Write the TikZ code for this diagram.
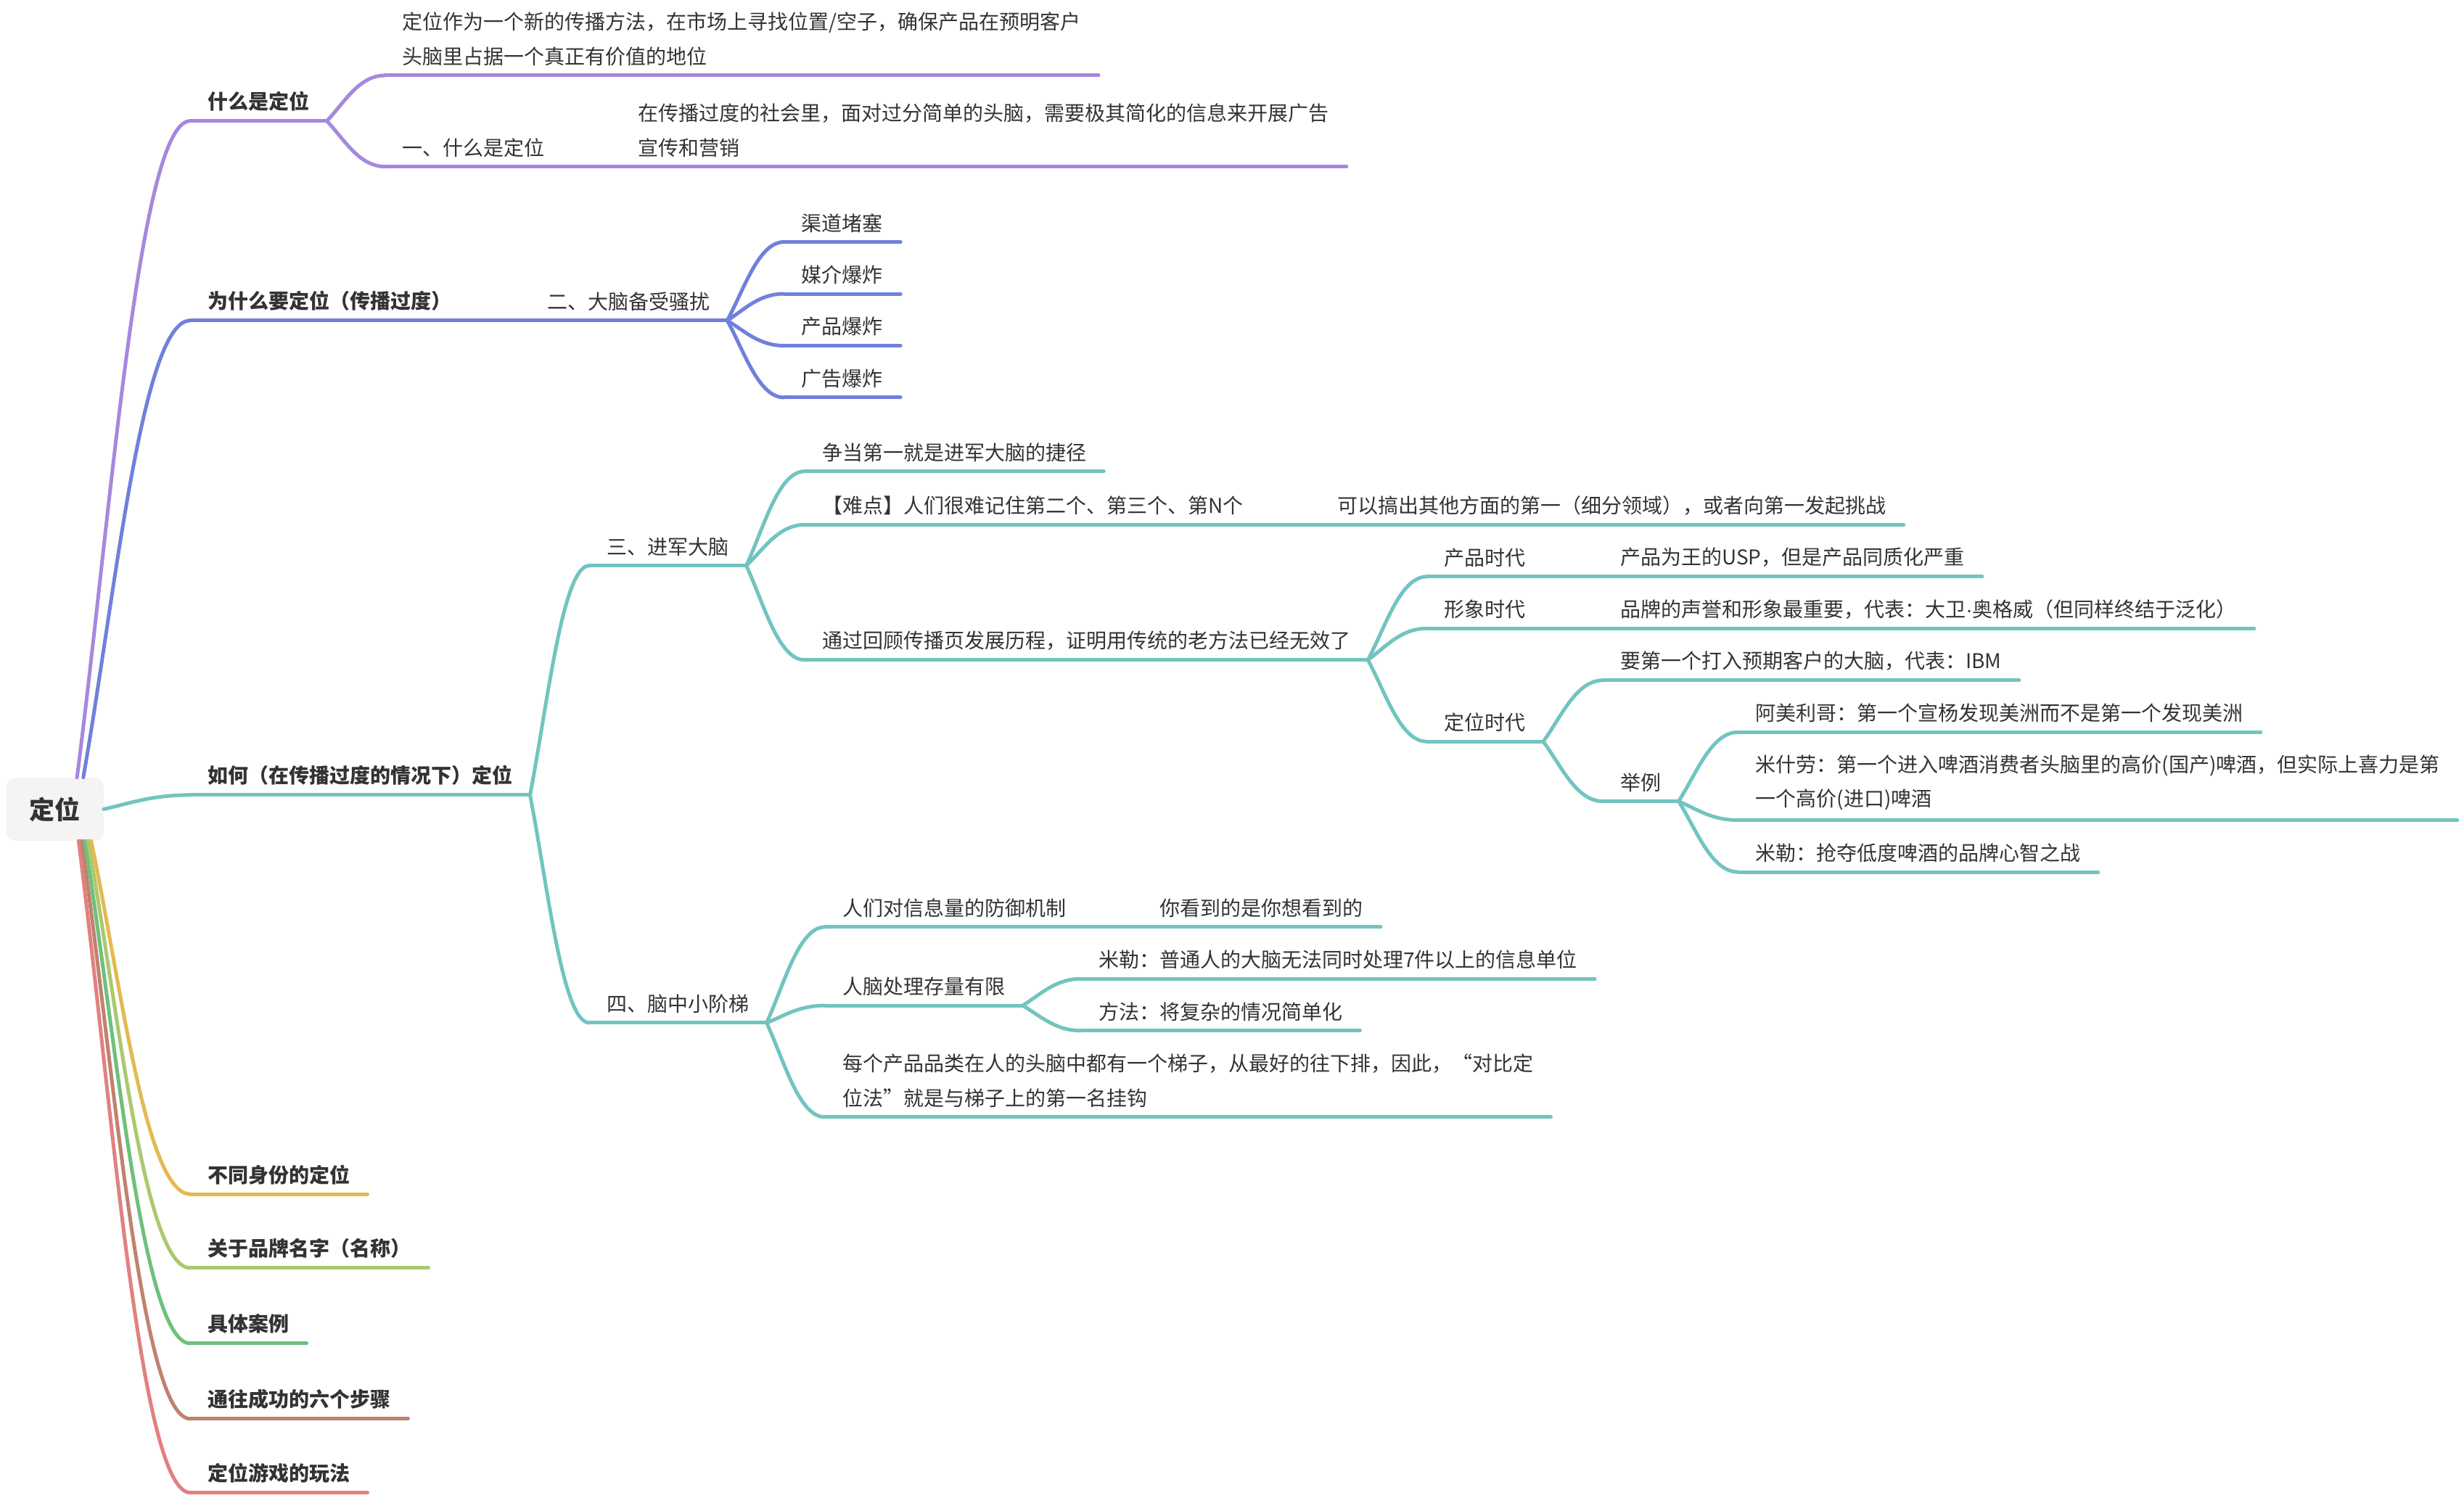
\documentclass[tikz,border=0pt]{standalone}
\usepackage{fontspec}
\setmainfont{Noto Sans CJK SC}
\newfontfamily\latinfont{Liberation Sans}
\usetikzlibrary{calc}
\definecolor{Ink}{HTML}{333333}
\definecolor{RootFill}{HTML}{F4F4F4}
\definecolor{Purple}{HTML}{A688DD}
\definecolor{Blue}{HTML}{7080DC}
\definecolor{Teal}{HTML}{72C4C0}
\definecolor{Yellow}{HTML}{E2BA50}
\definecolor{Lime}{HTML}{ACC86E}
\definecolor{Green}{HTML}{6EC07A}
\definecolor{Brown}{HTML}{C0826E}
\definecolor{Rose}{HTML}{E28080}

% curved branch from a junction to the start of a child's underline
\newcommand{\linkcurve}[3]{%
  \draw[#1] let \p1=(#2), \p2=(#3) in
    (\p1) .. controls ({\x1+0.3*(\x2-\x1)},{\y1+0.4*(\y2-\y1)})
    and ({\x1+0.55*(\x2-\x1)},{\y2}) .. (\p2);}

\begin{document}
\begin{tikzpicture}[
    x=2.1658pt,y=-2.1658pt,
    font=\fontsize{28pt}{47.6pt}\selectfont,text=Ink,
    lab/.style={anchor=south west,inner xsep=24pt,inner ysep=13pt,align=left},
    head/.style={lab,font=\fontsize{28pt}{47.6pt}\selectfont\bfseries},
    rootbox/.style={rounded corners=12pt,fill=RootFill,minimum width=134pt,
      minimum height=87pt,font=\fontsize{35pt}{40pt}\selectfont\bfseries},
    ul/.style={line width=5pt,line cap=round},
    cv/.style={line width=5pt,line cap=round}
  ]
  \useasboundingbox (0,0) rectangle (1568,953);

  \node[rootbox] (root) at (35,515) {定位};
  \coordinate (upP) at ($(root.north)+(14,0)$);
  \coordinate (upB) at ($(root.north)+(18,0)$);
  \coordinate (dnR) at ($(root.south)+(15,0)$);
  \coordinate (dnBr) at ($(root.south)+(17,0)$);
  \coordinate (dnG) at ($(root.south)+(19,0)$);
  \coordinate (dnL) at ($(root.south)+(21,0)$);
  \coordinate (dnY) at ($(root.south)+(23,0)$);

  % main topics
  \node[head] (what) at (121,77) {什么是定位};
  \node[head] (why) at (121,204) {为什么要定位（传播过度）};
  \node[head] (how) at (121,506) {如何（在传播过度的情况下）定位};
  \node[head] (role) at (121,760) {不同身份的定位};
  \node[head] (brand) at (121,807) {关于品牌名字（名称）};
  \node[head] (cases) at (121,855) {具体案例};
  \node[head] (steps) at (121,903) {通往成功的六个步骤};
  \node[head] (game) at (121,950) {定位游戏的玩法};

  % what
  \node[lab] (def) at (245,48) {定位作为一个新的传播方法，在市场上寻找位置/空子，确保产品在预明客户\\头脑里占据一个真正有价值的地位};
  \node[lab] (one) at (245,106) {一、什么是定位};
  \node[lab] (onedesc) at (395,106) {在传播过度的社会里，面对过分简单的头脑，需要极其简化的信息来开展广告\\宣传和营销};

  % why
  \node[lab] (two) at (337,204) {二、大脑备受骚扰};
  \node[lab] (jam) at (499,154) {渠道堵塞};
  \node[lab] (media) at (499,187) {媒介爆炸};
  \node[lab] (prod) at (499,220) {产品爆炸};
  \node[lab] (ad) at (499,253) {广告爆炸};

  % how
  \node[lab] (three) at (375,360) {三、进军大脑};
  \node[lab] (first) at (512,300) {争当第一就是进军大脑的捷径};
  \node[lab] (hard) at (512,334) {【难点】人们很难记住第二个、第三个、第N个};
  \node[lab] (harddesc) at (840,334) {可以搞出其他方面的第一（细分领域），或者向第一发起挑战};
  \node[lab] (review) at (512,420) {通过回顾传播页发展历程，证明用传统的老方法已经无效了};
  \node[lab] (era1) at (908,367) {产品时代};
  \node[lab] (era1d) at (1020,367) {产品为王的USP，但是产品同质化严重};
  \node[lab] (era2) at (908,400) {形象时代};
  \node[lab] (era2d) at (1020,400) {品牌的声誉和形象最重要，代表：大卫{\latinfont ·}奥格威（但同样终结于泛化）};
  \node[lab] (era3) at (908,472) {定位时代};
  \node[lab] (era3d) at (1020,433) {要第一个打入预期客户的大脑，代表：IBM};
  \node[lab] (eg) at (1020,510) {举例};
  \node[lab] (eg1) at (1106,466) {阿美利哥：第一个宣杨发现美洲而不是第一个发现美洲};
  \node[lab] (eg2) at (1106,522) {米什劳：第一个进入啤酒消费者头脑里的高价(国产)啤酒，但实际上喜力是第\\一个高价(进口)啤酒};
  \node[lab] (eg3) at (1106,555) {米勒：抢夺低度啤酒的品牌心智之战};
  \node[lab] (four) at (375,651) {四、脑中小阶梯};
  \node[lab] (defense) at (525,590) {人们对信息量的防御机制};
  \node[lab] (defensed) at (727,590) {你看到的是你想看到的};
  \node[lab] (limit) at (525,640) {人脑处理存量有限};
  \node[lab] (miller) at (688,623) {米勒：普通人的大脑无法同时处理7件以上的信息单位};
  \node[lab] (simplify) at (688,656) {方法：将复杂的情况简单化};
  \node[lab] (ladder) at (525,711) {每个产品品类在人的头脑中都有一个梯子，从最好的往下排，因此，“对比定\\位法”就是与梯子上的第一名挂钩};

  % underlines
  \foreach \n/\c in {what/Purple,def/Purple,one/Purple,onedesc/Purple,
      why/Blue,two/Blue,jam/Blue,media/Blue,prod/Blue,ad/Blue,
      how/Teal,three/Teal,first/Teal,hard/Teal,harddesc/Teal,review/Teal,
      era1/Teal,era1d/Teal,era2/Teal,era2d/Teal,era3/Teal,era3d/Teal,
      eg/Teal,eg1/Teal,eg2/Teal,eg3/Teal,four/Teal,defense/Teal,
      defensed/Teal,limit/Teal,miller/Teal,simplify/Teal,ladder/Teal,
      role/Yellow,brand/Lime,cases/Green,steps/Brown,game/Rose}
    \draw[ul,draw=\c] (\n.south west) -- (\n.south east);

  % branches from the root
  \linkcurve{cv,draw=Purple}{upP}{what.south west}
  \linkcurve{cv,draw=Blue}{upB}{why.south west}
  \linkcurve{cv,draw=Teal}{root.east}{how.south west}
  \linkcurve{cv,draw=Rose}{dnR}{game.south west}
  \linkcurve{cv,draw=Brown}{dnBr}{steps.south west}
  \linkcurve{cv,draw=Green}{dnG}{cases.south west}
  \linkcurve{cv,draw=Lime}{dnL}{brand.south west}
  \linkcurve{cv,draw=Yellow}{dnY}{role.south west}

  % branches between topics
  \foreach \a/\b/\c in {what/def/Purple,what/one/Purple,one/onedesc/Purple,
      why/two/Blue,two/jam/Blue,two/media/Blue,two/prod/Blue,two/ad/Blue,
      how/three/Teal,how/four/Teal,three/first/Teal,three/hard/Teal,
      three/review/Teal,hard/harddesc/Teal,review/era1/Teal,review/era2/Teal,
      review/era3/Teal,era1/era1d/Teal,era2/era2d/Teal,era3/era3d/Teal,
      era3/eg/Teal,eg/eg1/Teal,eg/eg2/Teal,eg/eg3/Teal,four/defense/Teal,
      four/limit/Teal,four/ladder/Teal,defense/defensed/Teal,
      limit/miller/Teal,limit/simplify/Teal}
    {\linkcurve{cv,draw=\c}{\a.south east}{\b.south west}}
\end{tikzpicture}
\end{document}
